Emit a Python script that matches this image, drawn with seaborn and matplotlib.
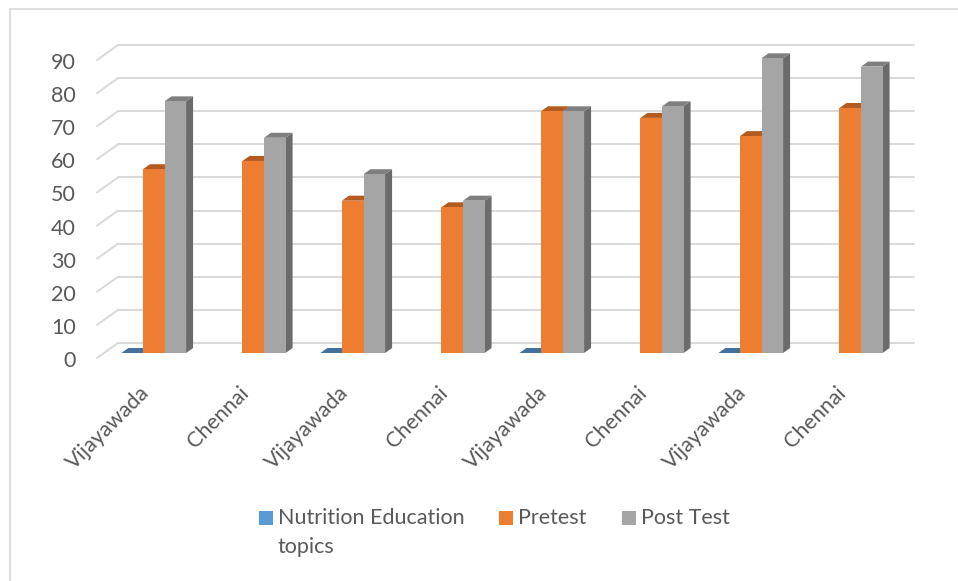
import numpy as np
import pandas as pd
import seaborn as sns
import matplotlib
matplotlib.use("Agg")
import matplotlib.pyplot as plt
from matplotlib.patches import Polygon, Rectangle
from matplotlib.lines import Line2D

# ---- data -------------------------------------------------------------
locations = ["Vijayawada", "Chennai", "Vijayawada", "Chennai",
             "Vijayawada", "Chennai", "Vijayawada", "Chennai"]
nutrition_topics = [0, np.nan, 0, np.nan, 0, np.nan, 0, np.nan]
pretest = [55.5, 58, 46, 44, 73, 71, 65.5, 74]
post_test = [76, 65, 54, 46, 73, 74.5, 89, 86.5]
series_names = ["Nutrition Education topics", "Pretest", "Post Test"]
y_ticks = [0, 10, 20, 30, 40, 50, 60, 70, 80, 90]

# ---- styling ----------------------------------------------------------
FONT = ["Lato", "DejaVu Sans"]
FS = 15.5
TEXT = "#595959"
GRID = "#D9D9D9"
front_col = {"Nutrition Education topics": "#5B9BD5",
             "Pretest": "#ED7D31", "Post Test": "#A5A5A5"}
top_col = {"Nutrition Education topics": "#41719C",
           "Pretest": "#B55A1E", "Post Test": "#7F7F7F"}
side_col = {"Nutrition Education topics": "#3A6690",
            "Pretest": "#A85220", "Post Test": "#6B6B6B"}

sns.set_theme(style="white")
plt.rcParams["font.family"] = FONT

W, H, DPI = 958, 581, 100
fig = plt.figure(figsize=(W / DPI, H / DPI), dpi=DPI)
fig.patch.set_facecolor("white")

# front plane of the bars (pixel box: x 104..900, y 55..353 from top)
ax = fig.add_axes([104 / W, (H - 353) / H, 796 / W, 298 / H])

rows = []
for i in range(len(locations)):
    for name, vals in zip(series_names, [nutrition_topics, pretest, post_test]):
        rows.append({"group": i, "series": name, "value": vals[i]})
df = pd.DataFrame(rows)

sns.barplot(data=df, x="group", y="value", hue="series", hue_order=series_names,
            palette=front_col, width=0.65, errorbar=None, saturation=1,
            linewidth=0, legend=False, ax=ax, zorder=2)

ax.set_xlim(-0.5, len(locations) - 0.5)
ax.set_ylim(0, 90)
ax.set_axis_off()


def px_to_data(dx_px, dy_px):
    o = ax.transData.transform((0, 0))
    ux = ax.transData.transform((1, 0))[0] - o[0]
    uy = ax.transData.transform((0, 1))[1] - o[1]
    return dx_px / ux, dy_px / uy


bdx, bdy = px_to_data(7, 5)      # depth of a column
wdx, wdy = px_to_data(14, 10)    # front plane -> back wall
fdx, fdy = px_to_data(-7, -5)    # front plane -> front edge of floor

# back wall gridlines and left wall diagonals
x_left, x_right = -0.5, len(locations) - 0.5
lx, ly = px_to_data(-28, -8)
for v in y_ticks:
    ax.add_line(Line2D([x_left + wdx, x_right + wdx], [v + wdy, v + wdy],
                       color=GRID, lw=1.4, zorder=0.5, clip_on=False))
    ax.add_line(Line2D([x_left + fdx, x_left + wdx], [v + fdy, v + wdy],
                       color=GRID, lw=1.4, zorder=0.5, clip_on=False))
    ax.text(x_left + lx, v + ly, str(v), ha="right", va="center",
            fontsize=FS, color=TEXT, family=FONT, clip_on=False)

# 3-D top and side faces for each column
for name, container in zip(series_names, ax.containers):
    for p in container.patches:
        h = p.get_height()
        if np.isnan(h):
            continue
        p.set_zorder(2)
        p.set_clip_on(False)
        x0, w = p.get_x(), p.get_width()
        top = [(x0, h), (x0 + w, h), (x0 + w + bdx, h + bdy), (x0 + bdx, h + bdy)]
        ax.add_patch(Polygon(top, closed=True, facecolor=top_col[name],
                             edgecolor="none", zorder=1.5, clip_on=False))
        if h > 0:
            side = [(x0 + w, 0), (x0 + w, h), (x0 + w + bdx, h + bdy),
                    (x0 + w + bdx, bdy)]
            ax.add_patch(Polygon(side, closed=True, facecolor=side_col[name],
                                 edgecolor="none", zorder=1, clip_on=False))

# category labels, rotated along the floor
cx, cy = px_to_data(-8, -37)
for i, lab in enumerate(locations):
    ax.text(i + cx, cy, lab, rotation=45, rotation_mode="anchor",
            ha="right", va="center", fontsize=FS, color=TEXT,
            family=FONT, clip_on=False)

# legend
legend_items = [("Nutrition Education", 259), ("Pretest", 499), ("Post Test", 622)]
for (label, xpx), name in zip(legend_items, series_names):
    fig.patches.append(Rectangle((xpx / W, (H - 525) / H), 14 / W, 14 / H,
                                 transform=fig.transFigure,
                                 facecolor=front_col[name], edgecolor="none"))
    fig.text((xpx + 19) / W, (H - 518) / H, label, ha="left", va="center",
             fontsize=FS, color=TEXT, family=FONT)
fig.text((259 + 19) / W, (H - 547) / H, "topics", ha="left", va="center",
         fontsize=FS, color=TEXT, family=FONT)

# chart border
fig.lines.append(Line2D([10 / W, 10 / W], [0, (H - 9) / H], transform=fig.transFigure,
                        color=GRID, lw=1.2))
fig.lines.append(Line2D([10 / W, 1], [(H - 9) / H, (H - 9) / H], transform=fig.transFigure,
                        color=GRID, lw=1.2))

fig.savefig("out.png", dpi=DPI)
